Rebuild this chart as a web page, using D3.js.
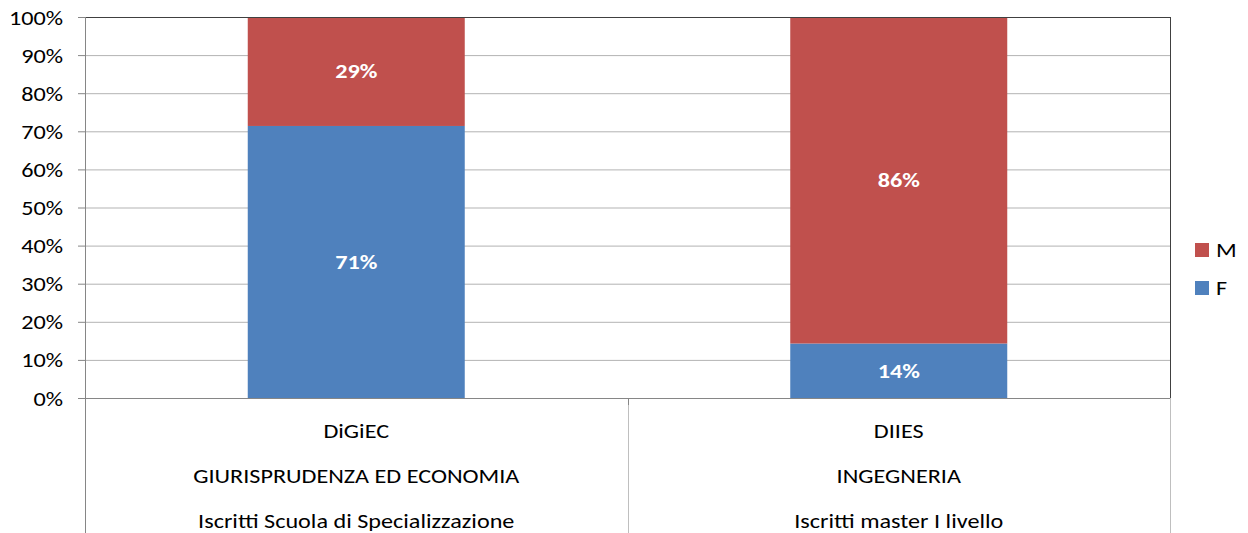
<!DOCTYPE html>
<html><head><meta charset="utf-8">
<script src="https://cdn.jsdelivr.net/npm/d3@7"></script>
<style>
html,body{margin:0;padding:0;background:#fff;}
svg{display:block;font-family:Carlito, Calibri, Lato, "Open Sans", sans-serif;}
</style></head>
<body><svg id="c" width="1248" height="533"></svg>
<script>
const categories = ["DiGiEC", "DIIES"];
const categoryLine2 = ["GIURISPRUDENZA ED ECONOMIA", "INGEGNERIA"];
const categoryLine3 = ["Iscritti Scuola di Specializzazione", "Iscritti master I livello"];
const valuesF = [71.4, 14.3];
const valuesM = [28.6, 85.7];
const seriesNames = ["F", "M"];
const seriesColors = ["#4F81BD", "#C0504D"];
const yTicks = [0,10,20,30,40,50,60,70,80,90,100];

const svg = d3.select("#c");
const L = 85, R = 1170, T = 17, B = 398, H = 533;
const FS = 20, SX = 1.21;

function txt(sel, px, py) {
  return sel.append("text")
    .attr("transform", `translate(${px},${py}) scale(${SX},1)`)
    .attr("font-size", FS).attr("dy", "0.35em");
}

const x = d3.scaleBand().domain(categories).range([L, R]).paddingInner(0.6).paddingOuter(0.3);
const xc = d3.scaleBand().domain(categories).range([L, R]);
const y = d3.scaleLinear().domain([0, 100]).range([B, T]);

// gridlines
svg.append("g").selectAll("line").data(yTicks.filter(d => d > 0 && d < 100)).join("line")
  .attr("x1", L).attr("x2", R).attr("y1", d => y(d) + 0.5).attr("y2", d => y(d) + 0.5)
  .attr("stroke", "#b3b3b3").attr("stroke-width", 1);

// stacked data
const rows = categories.map((c, i) => ({cat: c, F: valuesF[i], M: valuesM[i]}));
const stack = d3.stack().keys(seriesNames)(rows);

const g = svg.append("g");
stack.forEach((s, si) => {
  g.selectAll(null).data(s).join("rect")
    .attr("x", d => x(d.data.cat))
    .attr("width", x.bandwidth())
    .attr("y", d => y(d[1]))
    .attr("height", d => y(d[0]) - y(d[1]))
    .attr("fill", seriesColors[si]);
  s.forEach(d => {
    txt(g, x(d.data.cat) + x.bandwidth() / 2, (y(d[0]) + y(d[1])) / 2)
      .attr("text-anchor", "middle")
      .attr("fill", "#fff").attr("font-weight", "bold")
      .text(Math.round(d[1] - d[0]) + "%");
  });
});

// plot border top & right
svg.append("line").attr("x1", L).attr("x2", R + 0.5).attr("y1", T + 0.5).attr("y2", T + 0.5).attr("stroke", "#404040");
svg.append("line").attr("x1", R + 0.5).attr("x2", R + 0.5).attr("y1", T).attr("y2", B).attr("stroke", "#404040");

// y axis ticks
const ya = svg.append("g");
ya.selectAll("line").data(yTicks).join("line")
  .attr("x1", L - 7).attr("x2", L).attr("y1", d => y(d) + 0.5).attr("y2", d => y(d) + 0.5)
  .attr("stroke", "#868686");
yTicks.forEach(t => {
  txt(ya, 63, y(t) + 0.5).attr("text-anchor", "end").attr("fill", "#000").text(t + "%");
});
svg.append("line").attr("x1", L + 0.5).attr("x2", L + 0.5).attr("y1", T).attr("y2", H).attr("stroke", "#868686");

// x axis line
svg.append("line").attr("x1", L).attr("x2", R).attr("y1", B + 0.5).attr("y2", B + 0.5).attr("stroke", "#868686");

// category separators
const seps = categories.slice(1).map(c => xc(c)).concat([R]);
svg.append("g").selectAll("line").data(seps).join("line")
  .attr("x1", d => Math.round(d) + 0.5).attr("x2", d => Math.round(d) + 0.5)
  .attr("y1", B).attr("y2", H).attr("stroke", "#bfbfbf");
svg.append("g").selectAll("line").data(categories.slice(1).map(c => xc(c))).join("line")
  .attr("x1", d => Math.round(d) + 0.5).attr("x2", d => Math.round(d) + 0.5)
  .attr("y1", B).attr("y2", B + 7).attr("stroke", "#868686");

// category labels
const lines = [categories, categoryLine2, categoryLine3];
const rowY = [431, 476, 521];
const cl = svg.append("g");
lines.forEach((arr, li) => {
  arr.forEach((d, i) => {
    txt(cl, xc(categories[i]) + xc.bandwidth() / 2, rowY[li])
      .attr("text-anchor", "middle").attr("fill", "#000").text(d);
  });
});

// legend
const legendItems = [{n: "M", c: seriesColors[1]}, {n: "F", c: seriesColors[0]}];
const lgRoot = svg.append("g");
legendItems.forEach((d, i) => {
  const yy = 243 + i * 38;
  lgRoot.append("rect").attr("x", 1195).attr("y", yy).attr("width", 14).attr("height", 14).attr("fill", d.c);
  txt(lgRoot, 1216, yy + 7).attr("fill", "#000").text(d.n);
});
</script></body></html>
